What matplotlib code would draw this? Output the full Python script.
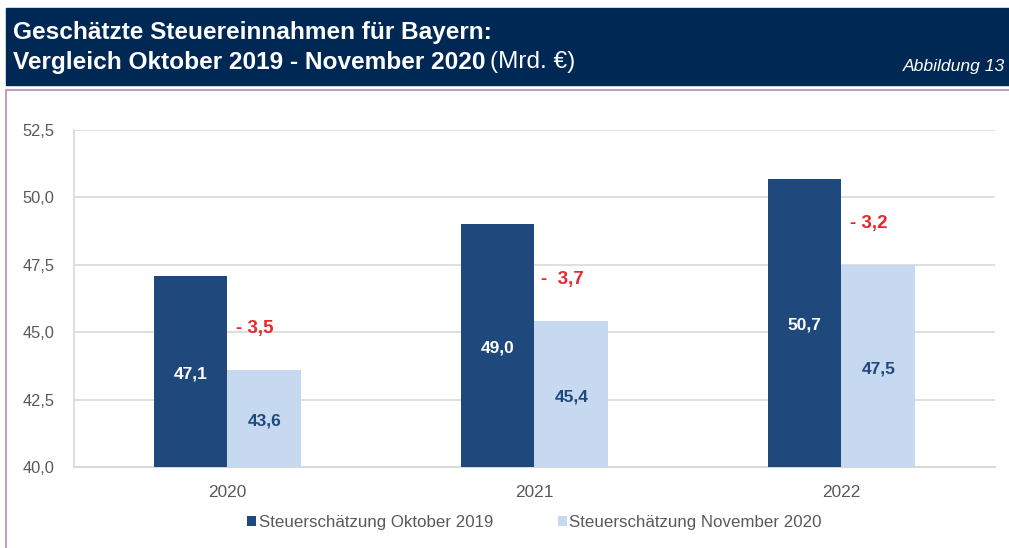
import numpy as np
import matplotlib.pyplot as plt
from matplotlib.patches import Rectangle

plt.rcParams['font.family'] = ['Liberation Sans', 'DejaVu Sans']

# Daten (Mrd. Euro)
jahre = ['2020', '2021', '2022']
okt_2019 = [47.1, 49.0, 50.7]
nov_2020 = [43.6, 45.4, 47.5]
differenz = ['- 3,5', '-  3,7', '- 3,2']
serien = ['Steuerschätzung Oktober 2019', 'Steuerschätzung November 2020']
y_ticks = [40.0, 42.5, 45.0, 47.5, 50.0, 52.5]

dunkel = '#1F497D'
hell = '#C6D9F0'
W, H = 1009, 548

fig = plt.figure(figsize=(W / 100, H / 100), dpi=100)

# Kopfzeile
fig.patches.append(Rectangle((6 / W, 1 - 85 / H), 1, 77 / H, transform=fig.transFigure,
                             color='#002855', zorder=0))
# Rahmen
fig.patches.append(Rectangle((6 / W, -0.1), 1.2, 1.1 - 90 / H, transform=fig.transFigure,
                             fill=False, edgecolor='#B48CB4', lw=1.2, zorder=0))
fig.text(13 / W, 1 - 32 / H, 'Geschätzte Steuereinnahmen für Bayern:', color='white',
         fontsize=17.6, fontweight='bold', va='center')
t = fig.text(13 / W, 1 - 62 / H, 'Vergleich Oktober 2019 - November 2020', color='white',
             fontsize=17.6, fontweight='bold', va='center')
fig.canvas.draw()
bb = t.get_window_extent()
fig.text(bb.x1 / W + 5 / W, 1 - 62 / H, '(Mrd. €)', color='white', fontsize=17.6, va='center')
fig.text(1005 / W, 1 - 66 / H, 'Abbildung 13', color='white', fontsize=12.6, style='italic',
         va='center', ha='right')

ax = fig.add_axes([74 / W, 1 - 467 / H, (995 - 74) / W, (467 - 130) / H])
x = np.arange(len(jahre))
b = 0.24
ax.bar(x - b / 2, okt_2019, b, color=dunkel, label=serien[0], zorder=3)
ax.bar(x + b / 2, nov_2020, b, color=hell, label=serien[1], zorder=3)

for i in range(len(jahre)):
    ax.text(x[i] - b / 2, (40 + okt_2019[i]) / 2 - 0.1, f'{okt_2019[i]:.1f}'.replace('.', ','),
            ha='center', va='center', color='white', fontsize=12.5, fontweight='bold', zorder=4)
    ax.text(x[i] + b / 2, (40 + nov_2020[i]) / 2 - 0.1, f'{nov_2020[i]:.1f}'.replace('.', ','),
            ha='center', va='center', color=dunkel, fontsize=12.5, fontweight='bold', zorder=4)
    ax.text(x[i] + b / 2 - 0.03, nov_2020[i] + 1.55, differenz[i], ha='center', va='center',
            color='#E8262C', fontsize=13.5, fontweight='bold', zorder=4)

ax.set_xlim(-0.5, 2.5)
ax.set_ylim(40, 52.5)
ax.set_yticks(y_ticks)
ax.set_yticklabels([f'{v:.1f}'.replace('.', ',') for v in y_ticks])
ax.set_xticks(x)
ax.set_xticklabels(jahre)
ax.tick_params(axis='both', length=0, colors='#595959', labelsize=12)
ax.tick_params(axis='y', labelsize=11.8, pad=14)
ax.tick_params(axis='x', labelsize=12.4, pad=13)
ax.grid(axis='y', color='#D9D9D9', lw=1.2, zorder=0)
for s in ['top', 'right']:
    ax.spines[s].set_visible(False)
ax.spines['left'].set_color('#D9D9D9')
ax.spines['bottom'].set_color('#D9D9D9')
ax.spines['left'].set_linewidth(1.2)
ax.spines['bottom'].set_linewidth(1.5)

leg = ax.legend(loc='center', bbox_to_anchor=(0.5, -0.165), ncol=2, frameon=False,
                fontsize=12.2, handlelength=0.55, handleheight=0.55, handletextpad=0.15,
                columnspacing=3.8)
for txt in leg.get_texts():
    txt.set_color('#595959')

fig.savefig('out.png', dpi=100)
